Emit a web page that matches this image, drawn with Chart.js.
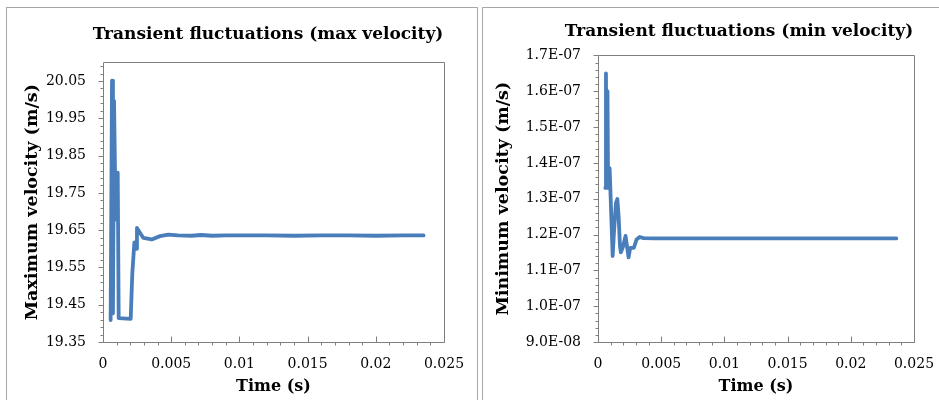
<!DOCTYPE html>
<html>
<head>
<meta charset="utf-8">
<script src="https://cdn.jsdelivr.net/npm/chart.js@4"></script>
<style>
  html, body { margin: 0; padding: 0; background: #fff; overflow: hidden; }
  .panel { position: absolute; border: 1px solid #a6a6a6; background: #fff; overflow: hidden; }
  #leftPanel { left: 6px; top: 7px; width: 470px; height: 392px; }
  #rightPanel { left: 482px; top: 7px; width: 512px; height: 392px; }
  canvas { display: block; }
</style>
</head>
<body>
<div class="panel" id="leftPanel"><canvas id="maxChart" width="522" height="390"></canvas></div>
<div class="panel" id="rightPanel"><canvas id="minChart" width="512" height="390"></canvas></div>
<script>
// x axis (time, s)
const timeTicks = [0, 0.005, 0.01, 0.015, 0.02, 0.025];

// max velocity history
const maxTime = [0.00056, 0.00066, 0.00073, 0.00081, 0.00093, 0.00108, 0.00115, 0.00203, 0.00215,
  0.0023, 0.00242, 0.00249, 0.00271, 0.00296, 0.00357, 0.00418, 0.00479, 0.0055, 0.0065, 0.0072,
  0.008, 0.009, 0.01, 0.012, 0.014, 0.016, 0.018, 0.02, 0.022, 0.0235];
const maxVel = [19.409, 20.051, 19.427, 19.997, 19.678, 19.804, 19.414, 19.412, 19.535,
  19.617, 19.600, 19.656, 19.643, 19.629, 19.625, 19.634, 19.638, 19.636, 19.635, 19.637,
  19.635, 19.636, 19.636, 19.636, 19.635, 19.636, 19.636, 19.635, 19.636, 19.636];
const maxTicks = [19.35, 19.45, 19.55, 19.65, 19.75, 19.85, 19.95, 20.05];

// min velocity history
const minTime = [0.00058, 0.00063, 0.00068, 0.00075, 0.0008, 0.00092, 0.00116, 0.00126, 0.00142,
  0.00153, 0.00163, 0.00174, 0.00181, 0.00197, 0.00218, 0.00242, 0.00255, 0.00284, 0.00305,
  0.0033, 0.0036, 0.0045, 0.006, 0.008, 0.01, 0.012, 0.015, 0.018, 0.021, 0.0236];
const minVel = [1.33e-7, 1.65e-7, 1.33e-7, 1.60e-7, 1.33e-7, 1.385e-7, 1.14e-7, 1.204e-7, 1.288e-7,
  1.299e-7, 1.251e-7, 1.167e-7, 1.150e-7, 1.165e-7, 1.196e-7, 1.136e-7, 1.163e-7, 1.163e-7, 1.186e-7,
  1.193e-7, 1.190e-7, 1.189e-7, 1.189e-7, 1.189e-7, 1.189e-7, 1.189e-7, 1.189e-7, 1.189e-7, 1.189e-7, 1.189e-7];
const minTicks = [9e-8, 1e-7, 1.1e-7, 1.2e-7, 1.3e-7, 1.4e-7, 1.5e-7, 1.6e-7, 1.7e-7];

const serif = "'DejaVu Serif', 'Liberation Serif', serif";
Chart.defaults.font.family = serif;
Chart.defaults.color = '#000';

const AXIS = '#7f7f7f';

// plot frame plus Excel-style major/minor tick marks
const frameTicks = {
  id: 'frameTicks',
  afterDraw(chart, args, opts) {
    const { ctx, chartArea: a, scales: { x, y } } = chart;
    const px = v => Math.round(v) + 0.5;
    ctx.save();
    ctx.strokeStyle = AXIS;
    ctx.lineWidth = 1;
    ctx.beginPath();
    ctx.rect(px(a.left), px(a.top), Math.round(a.right) - Math.round(a.left), Math.round(a.bottom) - Math.round(a.top));
    const ny = Math.floor((y.max - y.min) / opts.yMinor + 1e-6);
    for (let i = 0; i <= ny; i++) {
      const p = px(y.getPixelForValue(y.min + i * opts.yMinor));
      const len = i % 5 === 0 ? 5 : 3;
      ctx.moveTo(px(a.left) - len, p);
      ctx.lineTo(px(a.left), p);
    }
    const nx = Math.round((x.max - x.min) / opts.xMinor);
    for (let i = 0; i <= nx; i++) {
      const p = px(x.getPixelForValue(x.min + i * opts.xMinor));
      if (i % 5 === 0) {
        ctx.moveTo(p, px(a.bottom) - 6);
        ctx.lineTo(p, px(a.bottom));
      } else {
        ctx.moveTo(p, px(a.bottom));
        ctx.lineTo(p, px(a.bottom) + 3);
      }
    }
    ctx.stroke();
    ctx.restore();
  }
};

function makeChart(id, o) {
  const points = o.t.map((t, i) => ({ x: t, y: o.v[i] }));
  return new Chart(document.getElementById(id), {
    type: 'scatter',
    data: {
      datasets: [{
        data: points,
        showLine: true,
        borderColor: '#4A7EBB',
        borderWidth: 3.8,
        borderJoinStyle: 'round',
        borderCapStyle: 'round',
        pointRadius: 0,
        tension: 0
      }]
    },
    options: {
      responsive: false,
      animation: false,
      devicePixelRatio: 1,
      layout: { padding: 0 },
      plugins: {
        legend: { display: false },
        tooltip: { enabled: false },
        title: {
          display: true,
          text: o.title,
          fullSize: true,
          font: { size: 17, weight: 'bold' },
          padding: { top: o.titleTop, bottom: o.titleBottom }
        },
        frameTicks: { xMinor: 0.001, yMinor: o.yMinor }
      },
      scales: {
        x: {
          type: 'linear',
          min: 0,
          max: 0.025,
          afterBuildTicks: s => { s.ticks = timeTicks.map(v => ({ value: v })); },
          afterFit: s => { s.height = 56; },
          grid: { display: false, drawTicks: false },
          border: { display: false },
          ticks: { padding: 14, font: { size: 14 }, callback: v => String(+v.toFixed(3)) },
          title: { display: true, text: 'Time (s)', font: { size: 16, weight: 'bold' }, padding: { top: 0, bottom: 2 } }
        },
        y: {
          type: 'linear',
          min: o.yMin,
          max: o.yMax,
          afterBuildTicks: s => { s.ticks = o.yTicks.map(v => ({ value: v })); },
          afterFit: s => { s.width = o.yWidth; },
          grid: { display: false, drawTicks: false },
          border: { display: false },
          ticks: { padding: 17, font: { size: 14 }, callback: o.fmt },
          title: { display: true, text: o.yTitle, font: { size: 17.5, weight: 'bold' }, padding: { top: o.yTitlePad, bottom: 0 } }
        },
        // blank strip on the right, keeps the chart title centred where Excel puts it
        gap: {
          type: 'linear',
          position: 'right',
          display: true,
          afterFit: s => { s.width = o.gapRight; },
          grid: { display: false, drawTicks: false },
          border: { display: false },
          ticks: { display: false }
        }
      }
    },
    plugins: [frameTicks]
  });
}

makeChart('maxChart', {
  t: maxTime, v: maxVel, yTicks: maxTicks,
  yMin: 19.35, yMax: 20.1, yMinor: 0.02,
  title: 'Transient fluctuations (max velocity)', titleTop: 16, titleBottom: 18,
  yTitle: 'Maximum velocity (m/s)', yTitlePad: 15, yWidth: 96, gapRight: 85,
  fmt: v => v.toFixed(2)
});

makeChart('minChart', {
  t: minTime, v: minVel, yTicks: minTicks,
  yMin: 9e-8, yMax: 1.7e-7, yMinor: 2e-9,
  title: 'Transient fluctuations (min velocity)', titleTop: 13, titleBottom: 14,
  yTitle: 'Minimum velocity (m/s)', yTitlePad: 10, yWidth: 115, gapRight: 81,
  fmt: v => v.toExponential(1).toUpperCase().replace(/E([+-])(\d)$/, 'E$10$2')
});
</script>
</body>
</html>
